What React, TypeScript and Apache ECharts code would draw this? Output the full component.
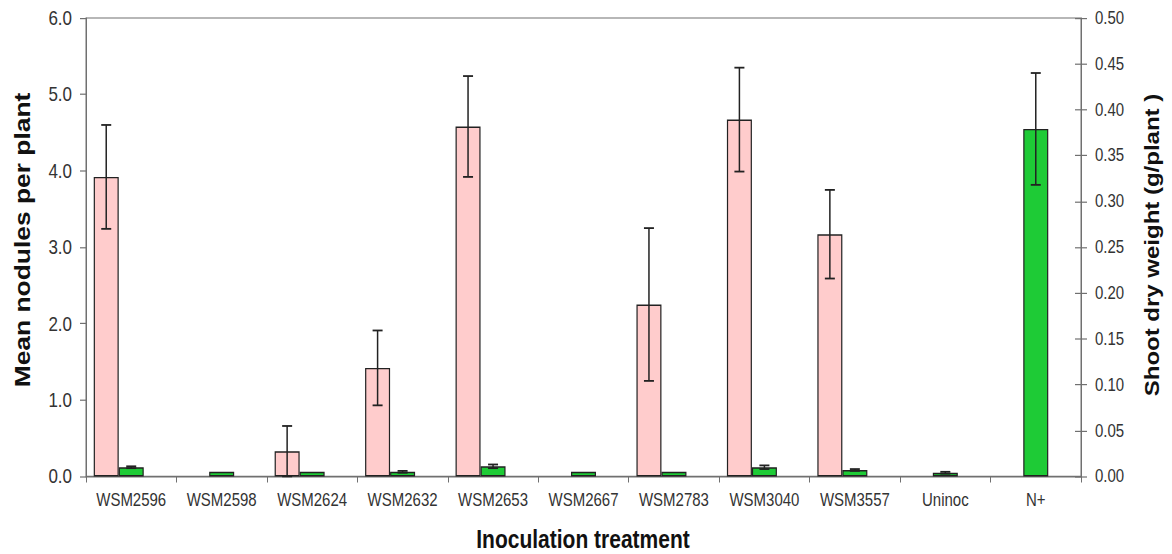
import React, { useEffect, useRef } from "react";
import * as echarts from "echarts";

const categories = ["WSM2596", "WSM2598", "WSM2624", "WSM2632", "WSM2653", "WSM2667", "WSM2783", "WSM3040", "WSM3557", "Uninoc", "N+"];
const nodules = [3.92, null, 0.33, 1.42, 4.58, null, 2.25, 4.67, 3.17, null, null];
const noduleErr = [0.68, 0, 0.33, 0.49, 0.66, 0, 1.0, 0.68, 0.58, 0, 0];
const shootWeight = [0.010, 0.005, 0.005, 0.005, 0.011, 0.005, 0.005, 0.010, 0.007, 0.004, 0.379];
const shootErr = [0.001, 0, 0, 0.001, 0.002, 0, 0, 0.002, 0.001, 0.001, 0.061];
const leftTicks = [0, 1, 2, 3, 4, 5, 6];
const rightTicks = [0, 0.05, 0.1, 0.15, 0.2, 0.25, 0.3, 0.35, 0.4, 0.45, 0.5];

const S = 1.2;
const W = 1172;
const H = 554 / S;
const FONT = "'Liberation Sans', Arial, sans-serif";
const BAR_W = 25;

function errRender(offset: number) {
  return (params: any, api: any) => {
    const idx = api.value(0);
    const val = api.value(1);
    const err = api.value(2);
    if (!err || err <= 0) return null;
    const c = api.coord([idx, val]);
    const t = api.coord([idx, val + err]);
    const b = api.coord([idx, Math.max(0, val - err)]);
    const x = c[0] + offset;
    const style = { stroke: "#222", lineWidth: 1.5 };
    const cap = 5;
    return {
      type: "group",
      children: [
        { type: "line", shape: { x1: x, y1: t[1], x2: x, y2: b[1] }, style },
        { type: "line", shape: { x1: x - cap, y1: t[1], x2: x + cap, y2: t[1] }, style },
        { type: "line", shape: { x1: x - cap, y1: b[1], x2: x + cap, y2: b[1] }, style },
      ],
    };
  };
}

export default function App() {
  const ref = useRef<HTMLDivElement>(null);
  useEffect(() => {
    if (!ref.current) return;
    const chart = echarts.init(ref.current, undefined, { renderer: "svg" });
    const axisColor = "#707070";
    const gridTop = 18 / S;
    const gridBottom = 78 / S;
    chart.setOption({
      animation: false,
      backgroundColor: "#fff",
      textStyle: { fontFamily: FONT },
      grid: {
        left: 86,
        right: W - 1081,
        top: gridTop,
        bottom: gridBottom,
        show: true,
        borderColor: axisColor,
        borderWidth: 1,
        backgroundColor: "transparent",
      },
      xAxis: {
        type: "category",
        data: categories,
        boundaryGap: true,
        axisLine: { lineStyle: { color: axisColor, width: 1 } },
        axisTick: { show: true, alignWithLabel: false, length: 5, lineStyle: { color: axisColor } },
        axisLabel: { fontSize: 15, color: "#333", fontFamily: FONT, margin: 12, interval: 0 },
      },
      yAxis: [
        {
          type: "value",
          position: "left",
          min: leftTicks[0],
          max: leftTicks[leftTicks.length - 1],
          interval: 1,
          axisLine: { show: true, lineStyle: { color: axisColor } },
          axisTick: { show: true, length: 6, lineStyle: { color: axisColor } },
          axisLabel: { fontSize: 17, color: "#333", fontFamily: FONT, margin: 14, formatter: (v: number) => v.toFixed(1) },
          splitLine: { show: false },
        },
        {
          type: "value",
          position: "right",
          min: rightTicks[0],
          max: rightTicks[rightTicks.length - 1],
          interval: 0.05,
          axisLine: { show: true, lineStyle: { color: axisColor } },
          axisTick: { show: true, length: 6, lineStyle: { color: axisColor } },
          axisLabel: { fontSize: 15, color: "#333", fontFamily: FONT, margin: 14, formatter: (v: number) => v.toFixed(2) },
          splitLine: { show: false },
        },
        {
          type: "value",
          position: "right",
          min: rightTicks[0],
          max: rightTicks[rightTicks.length - 1],
          interval: 0.05,
          axisLine: { show: false },
          axisTick: { show: true, inside: true, length: 6, lineStyle: { color: axisColor } },
          axisLabel: { show: false },
          splitLine: { show: false },
        },
      ],
      series: [
        {
          name: "Mean nodules per plant",
          type: "bar",
          yAxisIndex: 0,
          data: nodules,
          barWidth: BAR_W,
          barGap: "0%",
          itemStyle: { color: "#FFCCCC", borderColor: "#222", borderWidth: 1.2 },
        },
        {
          name: "Shoot dry weight",
          type: "bar",
          yAxisIndex: 1,
          data: shootWeight,
          barWidth: BAR_W,
          barGap: "0%",
          itemStyle: { color: "#1ECB36", borderColor: "#222", borderWidth: 1.2 },
        },
        {
          name: "spacer",
          type: "bar",
          yAxisIndex: 0,
          data: categories.map(() => null),
          barWidth: BAR_W,
          barGap: "0%",
          silent: true,
        },
        {
          type: "custom",
          yAxisIndex: 0,
          z: 5,
          renderItem: errRender(-BAR_W),
          data: nodules.map((v, i) => [i, v == null ? 0 : v, noduleErr[i]]),
          encode: { x: 0, y: 1 },
          silent: true,
        },
        {
          type: "custom",
          yAxisIndex: 1,
          z: 5,
          renderItem: errRender(0),
          data: shootWeight.map((v, i) => [i, v, shootErr[i]]),
          encode: { x: 0, y: 1 },
          silent: true,
        },
      ],
      graphic: [
        {
          type: "text",
          x: 22,
          y: 240 / S,
          rotation: Math.PI / 2,
          style: {
            text: "Mean nodules per plant",
            font: `bold 22px ${FONT}`,
            fill: "#111",
            align: "center",
            verticalAlign: "middle",
          },
        },
        {
          type: "text",
          x: 1152,
          y: 245 / S,
          rotation: Math.PI / 2,
          style: {
            text: "Shoot dry weight (g/plant )",
            font: `bold 20px ${FONT}`,
            fill: "#111",
            align: "center",
            verticalAlign: "middle",
          },
        },
        {
          type: "text",
          x: 583,
          y: 539 / S,
          style: {
            text: "Inoculation treatment",
            font: `bold 21px ${FONT}`,
            fill: "#111",
            align: "center",
            verticalAlign: "middle",
          },
        },
      ],
    });
    return () => chart.dispose();
  }, []);
  return (
    <div
      style={{
        position: "fixed",
        left: 0,
        top: 0,
        width: W,
        height: 554,
        overflow: "hidden",
        background: "#fff",
      }}
    >
      <div
        ref={ref}
        style={{
          width: W,
          height: H,
          transform: `scaleY(${S})`,
          transformOrigin: "0 0",
        }}
      />
    </div>
  );
}
